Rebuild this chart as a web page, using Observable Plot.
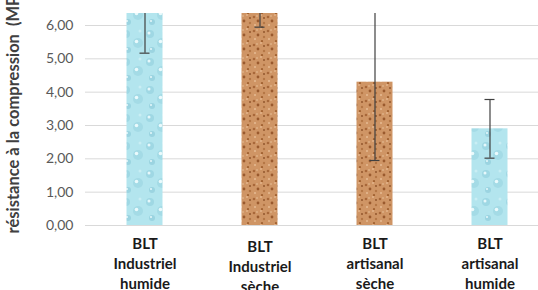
<!DOCTYPE html>
<html><head><meta charset="utf-8">
<script src="https://cdn.jsdelivr.net/npm/d3@7"></script>
<script src="https://cdn.jsdelivr.net/npm/@observablehq/plot@0.6"></script>
<style>
html,body{margin:0;padding:0;background:#fff;}
</style>
</head><body>
<div id="chart"></div>
<script>
const categories = ["BLT\nIndustriel\nhumide", "BLT\nIndustriel\nsèche", "BLT\nartisanal\nsèche", "BLT\nartisanal\nhumide"];
const values = [7.0, 7.4, 4.30, 2.90];
const errors = [1.83, 1.45, 2.35, 0.88];
const materials = ["eau", "liege", "liege", "eau"];
const yTicks = [0, 1, 2, 3, 4, 5, 6];
const yLabel = "résistance à la compression  (MPa)";

const data = categories.map((c, i) => ({cat: c, v: values[i], e: errors[i], m: materials[i]}));
const fillFor = {eau: "url(#pat-eau)", liege: "url(#pat-liege)"};

const chart = Plot.plot({
  width: 538,
  height: 290,
  marginLeft: 85,
  marginRight: 0,
  marginTop: 13,
  marginBottom: 65,
  style: {fontFamily: "Lato, sans-serif", background: "#fff"},
  x: {domain: categories, range: [86.5, 546.5], padding: 0},
  y: {domain: [0, 6.36]},
  marks: [
    Plot.gridY(yTicks, {stroke: "#d9d9d9", strokeOpacity: 1, strokeWidth: 1}),
    Plot.axisY(yTicks, {tickSize: 0, tickPadding: 0, dx: -12, tickFormat: d => d.toFixed(2).replace(".", ","), fontSize: 14, fill: "#595959", label: null}),
    Plot.barY(data, {x: "cat", y: "v", fill: d => fillFor[d.m], insetLeft: 39.5, insetRight: 39.5, clip: true}),
    Plot.ruleX(data, {x: "cat", y1: d => d.v - d.e, y2: d => d.v + d.e, stroke: "#404040", strokeWidth: 1.2, clip: true}),
    Plot.tickY(data, {x: "cat", y: d => d.v - d.e, stroke: "#404040", strokeWidth: 1.2, insetLeft: 52.5, insetRight: 52.5, clip: true}),
    Plot.tickY(data, {x: "cat", y: d => d.v + d.e, stroke: "#404040", strokeWidth: 1.2, insetLeft: 52.5, insetRight: 52.5, clip: true}),
    Plot.axisX([categories[0], categories[2], categories[3]], {tickSize: 0, tickPadding: 9, fontSize: 15, fontWeight: "bold", fill: "#1a1a1a", lineHeight: 1.33, label: null}),
    Plot.axisX([categories[1]], {tickSize: 0, tickPadding: 12, fontSize: 15, fontWeight: "bold", fill: "#1a1a1a", lineHeight: 1.33, label: null}),
    Plot.text([yLabel], {frameAnchor: "bottom-left", text: d => d, dx: -67, dy: 8, rotate: -90, textAnchor: "start", fontWeight: "bold", fontSize: 16.5, fill: "#404040"})
  ]
});

// textures for bars
const svgNS = "http://www.w3.org/2000/svg";
const defs = document.createElementNS(svgNS, "defs");
defs.innerHTML = `
<pattern id="pat-eau" patternUnits="userSpaceOnUse" width="24" height="28">
  <rect width="24" height="28" fill="#b3e5ee"/>
  <circle cx="6" cy="6" r="4" fill="#9fd8e4"/><circle cx="5" cy="5" r="1.5" fill="#e6f8fb"/>
  <circle cx="18" cy="15" r="5" fill="#a4dbe6"/><circle cx="16.5" cy="13.5" r="1.8" fill="#eafafc"/>
  <circle cx="8" cy="22" r="3" fill="#9bd4e1"/><circle cx="7" cy="21" r="1" fill="#e6f8fb"/>
  <circle cx="20" cy="3" r="1.5" fill="#c9eef4"/>
</pattern>
<pattern id="pat-liege" patternUnits="userSpaceOnUse" width="14" height="14">
  <rect width="14" height="14" fill="#cf9565"/>
  <circle cx="2" cy="3" r="1.3" fill="#a8683a"/><circle cx="9" cy="1" r="1" fill="#e3b48a"/>
  <circle cx="6" cy="7" r="1.4" fill="#9a5a2e"/><circle cx="12" cy="9" r="1.2" fill="#b57645"/>
  <circle cx="3" cy="11" r="1" fill="#e6bb93"/><circle cx="10" cy="13" r="1.1" fill="#a0602f"/>
  <circle cx="12" cy="4" r="0.9" fill="#8b4f26"/><circle cx="5" cy="2" r="0.8" fill="#e8c29c"/>
</pattern>`;
chart.insertBefore(defs, chart.firstChild);
document.getElementById("chart").appendChild(chart);
</script>
</body></html>
